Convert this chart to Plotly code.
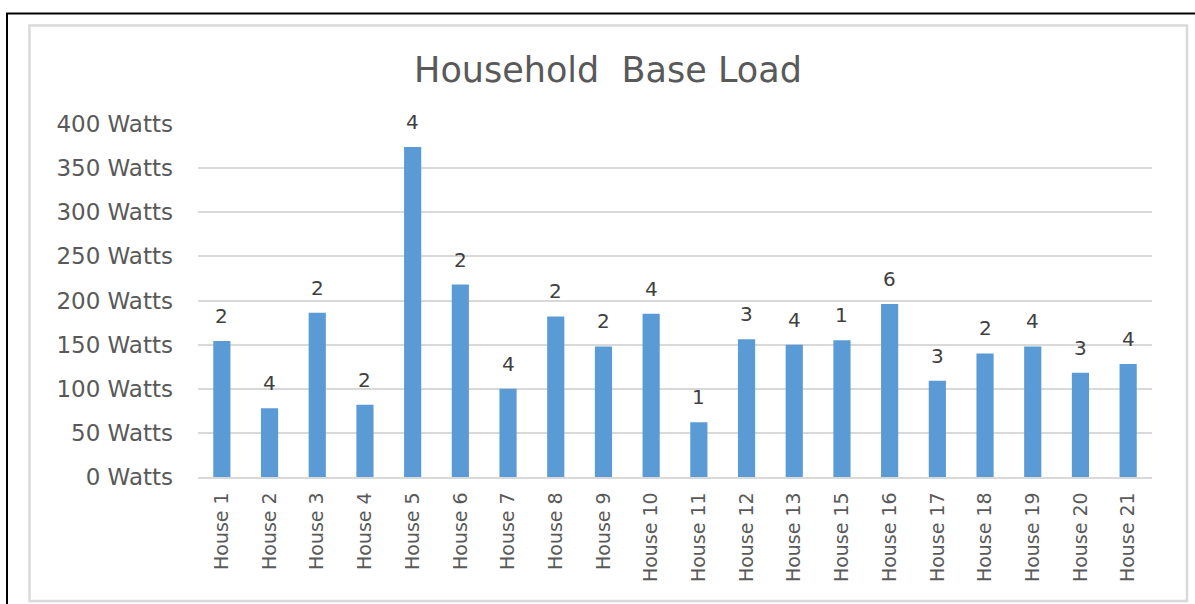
import plotly.graph_objects as go

houses = ["House 1", "House 2", "House 3", "House 4", "House 5", "House 6", "House 7",
          "House 8", "House 9", "House 10", "House 11", "House 12", "House 13", "House 15",
          "House 16", "House 17", "House 18", "House 19", "House 20", "House 21"]
base_load_watts = [154, 78, 186, 82, 374, 218, 100, 182, 148, 185, 62, 156, 150, 155,
                   196, 109, 140, 148, 118, 128]
occupants = [2, 4, 2, 2, 4, 2, 4, 2, 2, 4, 1, 3, 4, 1, 6, 3, 2, 4, 3, 4]
y_ticks = [0, 50, 100, 150, 200, 250, 300, 350, 400]
y_tick_labels = [f"{v} Watts" for v in y_ticks]

W, H = 1195, 604
ML, MR, MT, MB = 198, 43, 124, 127
PW, PH = W - ML - MR, H - MT - MB

def px(x):
    return (x - ML) / PW

def py(y):
    return (H - MB - y) / PH

TXT = "#595959"
FONT = "DejaVu Sans"

fig = go.Figure()
fig.add_trace(go.Bar(
    x=houses, y=base_load_watts,
    marker=dict(color="#5b9bd5", line=dict(width=0)),
    hoverinfo="x+y",
))

for h, v, n in zip(houses, base_load_watts, occupants):
    fig.add_annotation(x=h, y=v, text=str(n), showarrow=False, yanchor="middle",
                       yshift=25, font=dict(family=FONT, size=20, color="#404040"))

shapes = [
    dict(type="rect", xref="paper", yref="paper", x0=px(7), x1=px(1200), y0=py(13.5), y1=py(620),
         line=dict(color="black", width=2), fillcolor="rgba(0,0,0,0)", layer="below"),
    dict(type="rect", xref="paper", yref="paper", x0=px(29.5), x1=px(1187), y0=py(25.5), y1=py(601),
         line=dict(color="#d9d9d9", width=2.5), fillcolor="rgba(0,0,0,0)", layer="below"),
]

fig.update_layout(
    width=W, height=H,
    margin=dict(l=ML, r=MR, t=MT, b=MB),
    paper_bgcolor="white", plot_bgcolor="white",
    shapes=shapes,
    showlegend=False,
    bargap=0.64,
    title=dict(text="Household  Base Load", x=608 / W, xanchor="center", y=1 - 70 / H, yanchor="middle",
               xref="container", yref="container",
               font=dict(family=FONT, size=35, color=TXT)),
    font=dict(family=FONT, color=TXT),
    xaxis=dict(
        tickangle=-90, tickfont=dict(family=FONT, size=19, color=TXT),
        showline=True, linecolor="#d9d9d9", linewidth=1.5,
        ticks="", showgrid=False, ticklabelstandoff=6,
    ),
    yaxis=dict(
        range=[0, 400], tickvals=y_ticks, ticktext=y_tick_labels,
        tickfont=dict(family=FONT, size=23, color=TXT),
        showgrid=True, gridcolor="#d9d9d9", gridwidth=1.5,
        zeroline=False, ticks="", ticklabelstandoff=24,
    ),
)

fig.write_html("out.html", config={"displayModeBar": False},
               post_script="document.body.style.margin='0';document.body.style.overflow='hidden';")
